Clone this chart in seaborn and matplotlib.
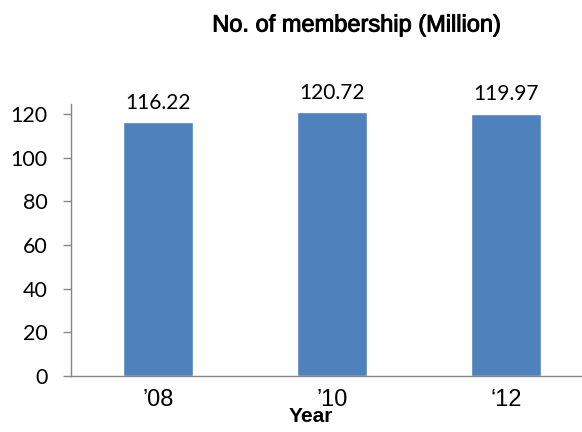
import matplotlib
matplotlib.use("Agg")
import matplotlib.pyplot as plt
import matplotlib.patheffects as pe
import seaborn as sns
import pandas as pd

years = ["\u201908", "\u201910", "\u201812"]
members = [116.22, 120.72, 119.97]
y_ticks = [0, 20, 40, 60, 80, 100, 120]

df = pd.DataFrame({"Year": years, "Members": members})

sns.set_theme(style="white")
plt.rcParams["font.family"] = ["Lato", "DejaVu Sans"]
plt.rcParams["text.color"] = "black"
plt.rcParams["xtick.color"] = "black"
plt.rcParams["ytick.color"] = "black"
plt.rcParams["axes.labelcolor"] = "black"
arial_like = ["Liberation Sans", "DejaVu Sans"]

fig = plt.figure(figsize=(5.82, 4.32), dpi=100)
ax = fig.add_axes([71 / 582, 56 / 432, 522 / 582, 272 / 432])

sns.barplot(data=df, x="Year", y="Members", color="#4F81BD", width=0.4,
            saturation=1, ax=ax)

ax.set_ylim(0, 124.6)
ax.set_xlim(-0.5, 2.5)
ax.set_yticks(y_ticks)
ax.set_yticklabels([str(t) for t in y_ticks], fontsize=15.5, fontfamily="Lato")
ax.tick_params(axis="y", direction="out", length=6, width=1, color="#868686",
               labelcolor="black", pad=11, left=True)
ax.tick_params(axis="x", length=0, pad=9, labelcolor="black")
for lbl in ax.get_xticklabels():
    lbl.set_fontfamily(arial_like)
    lbl.set_fontsize(17)

for side in ("top", "right"):
    ax.spines[side].set_visible(False)
for side in ("left", "bottom"):
    ax.spines[side].set_color("#868686")
    ax.spines[side].set_linewidth(1)

ax.set_ylabel("")
ax.set_xlabel("Year", fontsize=15, fontweight="bold", fontfamily=arial_like,
              color="black")
ax.xaxis.label.set_va("baseline")
ax.xaxis.set_label_coords((311 - 71) / 522, (376 - 422) / 272)

for i, v in enumerate(members):
    ax.annotate(f"{v:.2f}", xy=(i, v), xytext=(0, 7), textcoords="offset points",
                ha="center", va="bottom", fontsize=15, fontfamily="Lato",
                color="black")

title = fig.text(357 / 582, 1 - 31.5 / 432, "No. of membership (Million)",
                 ha="center", va="baseline", fontsize=17, fontfamily=arial_like,
                 color="black")
title.set_path_effects([pe.withStroke(linewidth=0.7, foreground="black")])

fig.savefig("out.png", dpi=100)
